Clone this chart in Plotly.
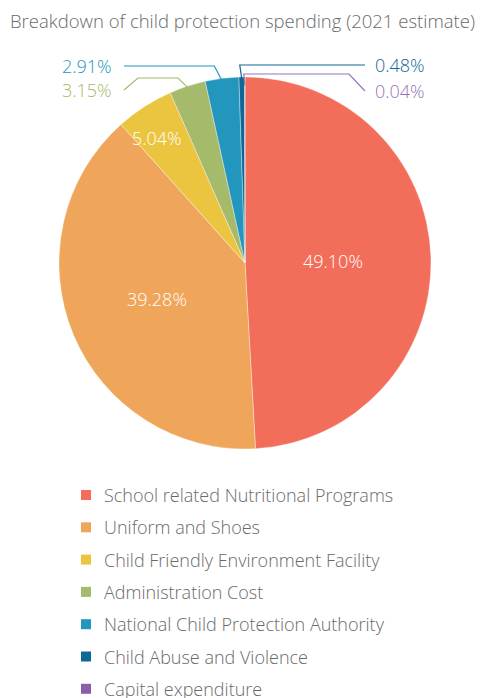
import math
import plotly.graph_objects as go

# Spending categories and their shares (%)
categories = [
    "School related Nutritional Programs",
    "Uniform and Shoes",
    "Child Friendly Environment Facility",
    "Administration Cost",
    "National Child Protection Authority",
    "Child Abuse and Violence",
    "Capital expenditure",
]
shares = [49.10, 39.28, 5.04, 3.15, 2.91, 0.48, 0.04]
colors = ["#F26E5B", "#EFA65A", "#EBC540", "#A5BA6B", "#2396BD", "#0E6896", "#8A5FA8"]
label_colors = ["#FFFFFF", "#FFFFFF", "#FFFFFF", "#A5BA6B", "#2396BD", "#0E6896", "#9A72B8"]

title_text = "Breakdown of child protection spending (2021 estimate)"

W, H = 480, 698
CX, CY, R = 245.0, 263.0, 186.0
FONT = "Open Sans"
GREY = "#6A6A6A"
FS = 18


def px(x):
    return x / W


def py(y):
    return 1 - y / H


def polar(angle_deg, radius):
    a = math.radians(angle_deg)
    return CX + radius * math.sin(a), CY - radius * math.cos(a)


# mid angle (clockwise from 12 o'clock) of each slice
total = sum(shares)
mids = []
acc = 0.0
for s in shares:
    mids.append((acc + s / 2) / total * 360.0)
    acc += s

fig = go.Figure(
    go.Pie(
        labels=categories,
        values=shares,
        sort=False,
        direction="clockwise",
        rotation=0,
        marker=dict(colors=colors, line=dict(color="rgba(255,255,255,0.6)", width=0.6)),
        textinfo="none",
        hoverinfo="label+percent",
        showlegend=False,
        domain=dict(x=[px(CX - R), px(CX + R)], y=[py(CY + R), py(CY - R)]),
    )
)

annotations = []
shapes = []

# inside labels: (slice index, radius fraction, angular nudge in degrees)
inside = [(0, 0.475, 0.0), (1, 0.51, 0.0), (2, 0.82, -2.5)]
for i, frac, nudge in inside:
    x, y = polar(mids[i] + nudge, R * frac)
    annotations.append(dict(
        x=px(x), y=py(y), xref="paper", yref="paper",
        text=f"{shares[i]:.2f}%", showarrow=False,
        font=dict(family=FONT, size=FS, color=label_colors[i], weight=300),
        xanchor="center", yanchor="middle",
    ))

# outside labels with leader lines:
# (slice index, anchor radius frac, knee y, knee dx, horizontal end x, label y, label x, side)
outside = [
    (3, 0.99, 78, -10, 138, 90, 114, "left"),
    (4, 0.985, 66, -8, 124, 66, 114, "left"),
    (5, 0.99, 65, -2, 365, 65, 373, "right"),
    (6, 0.955, 74, -1, 349, 91, 373, "right"),
]
for i, frac, knee_y, knee_dx, end_x, lab_y, lab_x, side in outside:
    ax, ay = polar(mids[i], R * frac)
    kx = ax + knee_dx
    pts = [(ax, ay), (kx, knee_y), (end_x, knee_y)]
    if abs(lab_y - knee_y) > 1:
        tail_x = end_x - 14 if side == "left" else end_x + 16
        pts.append((tail_x, lab_y))
    path = "M " + " L ".join(f"{px(x):.5f},{py(y):.5f}" for x, y in pts)
    shapes.append(dict(type="path", path=path, xref="paper", yref="paper",
                       line=dict(color=label_colors[i], width=1.2)))
    annotations.append(dict(
        x=px(lab_x), y=py(lab_y), xref="paper", yref="paper",
        text=f"{shares[i]:.2f}%", showarrow=False,
        font=dict(family=FONT, size=FS, color=label_colors[i], weight=300),
        xanchor="right" if side == "left" else "left", yanchor="middle",
    ))

# legend drawn as swatches + labels
LEG_X, LEG_Y0, LEG_DY, SW = 81, 495, 32.3, 10
for k, (name, col) in enumerate(zip(categories, colors)):
    yc = LEG_Y0 + k * LEG_DY
    shapes.append(dict(type="rect", xref="paper", yref="paper",
                       x0=px(LEG_X), x1=px(LEG_X + SW), y0=py(yc + SW / 2), y1=py(yc - SW / 2),
                       fillcolor=col, line=dict(width=0)))
    annotations.append(dict(
        x=px(LEG_X + 21), y=py(yc), xref="paper", yref="paper",
        text=name, showarrow=False, xanchor="left", yanchor="middle",
        font=dict(family=FONT, size=FS, color=GREY, weight=300),
    ))

# title
annotations.append(dict(
    x=px(8), y=py(20), xref="paper", yref="paper", text=title_text, showarrow=False,
    xanchor="left", yanchor="middle",
    font=dict(family=FONT, size=18.5, color=GREY, weight=300),
))

fig.update_layout(
    width=W, height=H,
    margin=dict(l=0, r=0, t=0, b=0),
    paper_bgcolor="white", plot_bgcolor="white",
    annotations=annotations, shapes=shapes,
    showlegend=False,
)

fig.write_html("out.html", config={"displayModeBar": False})
